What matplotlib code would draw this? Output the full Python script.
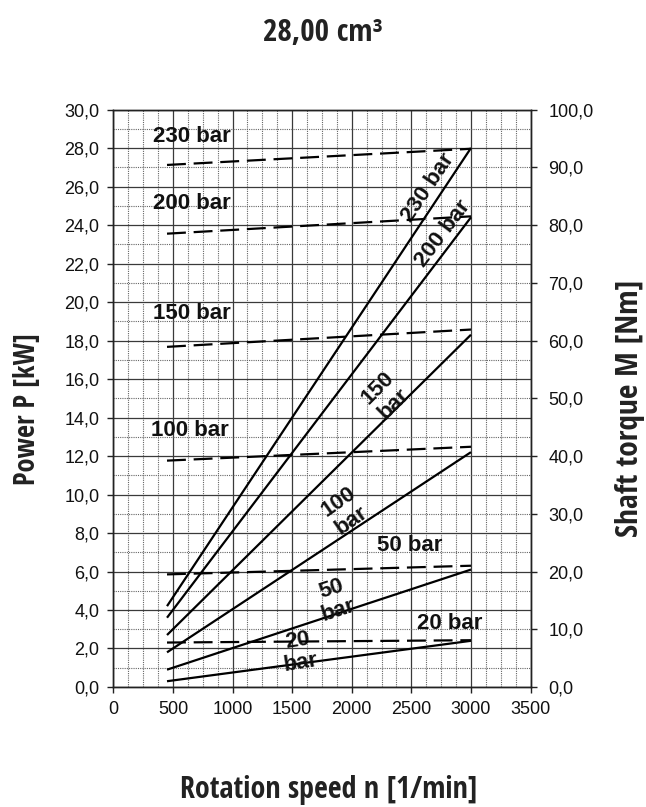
import matplotlib
matplotlib.use("Agg")
import matplotlib.pyplot as plt
from matplotlib import font_manager as fm
from matplotlib.ticker import MultipleLocator, FuncFormatter

# ---------------- data ----------------
pressures = ["230 bar", "200 bar", "150 bar", "100 bar", "50 bar", "20 bar"]
speed = [450, 3000]                      # rpm
power_start = [4.2, 3.6, 2.7, 1.8, 0.9, 0.3]     # kW at 450 rpm
power_end = [28.0, 24.4, 18.3, 12.2, 6.1, 2.4]   # kW at 3000 rpm
torque_start = [90.4, 78.5, 58.9, 39.2, 19.5, 7.7]   # Nm at 450 rpm
torque_end = [93.2, 81.5, 61.9, 41.6, 21.0, 8.1]     # Nm at 3000 rpm

x_ticks = [0, 500, 1000, 1500, 2000, 2500, 3000, 3500]
power_ticks = [0, 2, 4, 6, 8, 10, 12, 14, 16, 18, 20, 22, 24, 26, 28, 30]
torque_ticks = [0, 10, 20, 30, 40, 50, 60, 70, 80, 90, 100]

title = "28,00 cm\u00b3"
xlabel = "Rotation speed n [1/min]"
ylabel_left = "Power P [kW]"
ylabel_right = "Shaft torque M [Nm]"

torque_label_pos = [(658, 28.6), (658, 25.1), (658, 19.4), (642, 13.3), (2488, 7.33), (2824, 3.28)]
power_labels = ["230 bar", "200 bar", "150\nbar", "100\nbar", "50\nbar", "20\nbar"]
power_label_pos = [(2640, 25.95), (2765, 23.56), (2289, 15.13), (1947, 9.13), (1859, 4.52), (1561, 1.82)]
power_label_rot = [56, 53, 45, 35, 18, 9]


# ------------- condensed bold font lookup -------------
def find_condensed_bold():
    best = None
    best_score = -1
    for f in fm.fontManager.ttflist:
        name = f.name.lower()
        fname = f.fname.lower()
        cond = ("condensed" in fname or "narrow" in fname or "condensed" in name
                or "narrow" in name or f.stretch in ("condensed", "semi-condensed",
                                                      "extra-condensed"))
        if not cond:
            continue
        w = f.weight if isinstance(f.weight, int) else {"bold": 700}.get(f.weight, 400)
        if "italic" in fname or f.style != "normal":
            continue
        if "extra" in fname or "ultra" in fname:
            continue
        if "semicondensed" in fname.replace("-", ""):
            sc = 1
        else:
            sc = 2
        score = sc * 1000 - abs(w - 700)
        for pref, bonus in (("opensans", 300), ("roboto", 200), ("noto", 150), ("dejavu", 100)):
            if pref in fname.replace(" ", "").replace("-", ""):
                score += bonus
                break
        if score > best_score:
            best_score = score
            best = f.fname
    if best:
        return fm.FontProperties(fname=best)
    return fm.FontProperties(family="DejaVu Sans", weight="bold")


condprop = find_condensed_bold()

# ---------------- figure ----------------
fig = plt.figure(figsize=(6.46, 8.07), dpi=100)
ax = fig.add_axes([0.1755, 0.1487, 0.6458, 0.7156])
ax2 = ax.twinx()

tickfam = ["Liberation Sans", "DejaVu Sans"]
labfont = ["Liberation Sans", "DejaVu Sans"]

ax.set_xlim(0, 3500)
ax.set_ylim(0, 30)
ax2.set_ylim(0, 100)

ax.xaxis.set_minor_locator(MultipleLocator(125))
ax.yaxis.set_minor_locator(MultipleLocator(1))
ax.set_xticks(x_ticks)
ax.set_yticks(power_ticks)
ax2.set_yticks(torque_ticks)
fmt = FuncFormatter(lambda v, p: f"{v:.1f}".replace(".", ","))
ax.yaxis.set_major_formatter(fmt)
ax2.yaxis.set_major_formatter(fmt)
ax.set_xticklabels([str(v) for v in x_ticks])

ax.grid(which="major", color="#3a3a3a", linewidth=0.9, linestyle="-")
ax.grid(which="minor", color="#666666", linewidth=0.8, linestyle=(0, (1, 1)))
ax.set_axisbelow(True)

for a in (ax, ax2):
    for s in a.spines.values():
        s.set_color("#222222")
        s.set_linewidth(1.0)
ax.tick_params(which="major", direction="out", length=4, width=1, color="#222222", pad=6)
ax.tick_params(which="minor", length=0)
ax2.tick_params(which="major", direction="out", length=4, width=1, color="#222222", pad=9)
for lab in ax.get_xticklabels() + ax.get_yticklabels() + ax2.get_yticklabels():
    lab.set_fontfamily(tickfam)
    lab.set_fontsize(13)
    lab.set_color("#111111")

# power lines (solid)
for ps, pe in zip(power_start, power_end):
    ax.plot(speed, [ps, pe], color="black", linewidth=1.6, solid_capstyle="butt", zorder=3)

# torque lines (dashed, right axis)
for ts, te in zip(torque_start, torque_end):
    ax2.plot(speed, [ts, te], color="black", linewidth=1.6, linestyle=(0, (8.5, 3.5)), zorder=3)

# labels
for txt, (x, y) in zip(pressures, torque_label_pos):
    ax.text(x, y, txt, ha="center", va="center", fontsize=16, fontweight="bold",
            family=labfont, color="#111111", zorder=4)
for txt, (x, y), r in zip(power_labels, power_label_pos, power_label_rot):
    ax.text(x, y, txt, ha="center", va="center", fontsize=16, fontweight="bold",
            family=labfont, rotation=r, rotation_mode="anchor", multialignment="center",
            linespacing=1.1, color="#111111", zorder=4)

# titles (condensed bold), scaled to match target lengths in pixels
big = []
big.append((fig.text(0.5, 1 - 33 / 807, title, ha="center", va="center",
                     fontproperties=condprop, color="#222222"), 120, 0))
big.append((fig.text(329 / 646, 1 - 790 / 807, xlabel, ha="center", va="center",
                     fontproperties=condprop, color="#222222"), 298, 0))
big.append((fig.text(28 / 646, 1 - 409 / 807, ylabel_left, ha="center", va="center",
                     fontproperties=condprop, rotation=90, color="#222222"), 152, 1))
big.append((fig.text(630 / 646, 1 - 408 / 807, ylabel_right, ha="center", va="center",
                     fontproperties=condprop, rotation=90, color="#222222"), 257, 1))
for t, _, _ in big:
    t.set_fontsize(20)
renderer = fig.canvas.get_renderer()
for t, target, vertical in big:
    bb = t.get_window_extent(renderer)
    length = bb.height if vertical else bb.width
    t.set_fontsize(20 * target / length)

fig.savefig("out.png", dpi=100, facecolor="white")
